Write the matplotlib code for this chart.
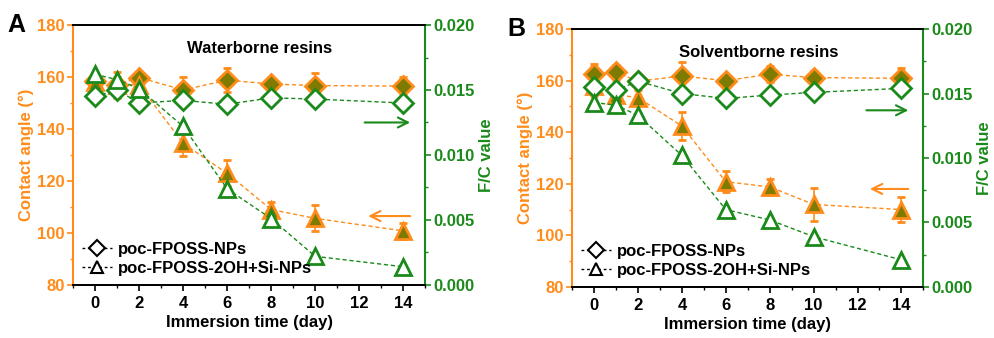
import matplotlib
matplotlib.use('Agg')
import matplotlib.pyplot as plt
from matplotlib.lines import Line2D
from matplotlib.ticker import MultipleLocator

plt.rcParams['font.family'] = ['Liberation Sans', 'DejaVu Sans']
plt.rcParams['font.weight'] = 'bold'

orange = '#ff8c1a'
olive = '#7f7a00'
green = '#1a8a1a'

days = [0, 1, 2, 4, 6, 8, 10, 14]

# panel A - waterborne
ca_np_A = [158.5, 157.0, 159.8, 155.0, 158.8, 157.3, 156.7, 156.5]
ca_np_A_err = [3.0, 5.0, 2.0, 5.0, 4.5, 2.5, 5.0, 3.5]
ca_si_A = [158.0, 157.0, 157.0, 134.5, 122.9, 109.0, 105.6, 100.8]
ca_si_A_err = [2.0, 3.0, 2.0, 5.0, 5.0, 3.0, 5.0, 3.0]
fc_np_A = [0.0145, 0.0150, 0.0140, 0.0142, 0.0139, 0.0144, 0.0143, 0.0140]
fc_si_A = [0.0162, 0.0158, 0.0151, 0.0122, 0.0074, 0.0051, 0.0022, 0.0014]

# panel B - solventborne
ca_np_B = [162.5, 163.2, 159.8, 161.8, 160.0, 162.5, 161.2, 160.9]
ca_np_B_err = [4.0, 3.0, 2.0, 5.5, 2.0, 3.0, 2.5, 4.0]
ca_si_B = [158.0, 154.6, 153.4, 142.4, 120.8, 118.8, 112.0, 110.0]
ca_si_B_err = [4.0, 3.0, 3.0, 5.5, 4.0, 3.0, 6.5, 5.0]
fc_np_B = [0.01547, 0.01526, 0.01596, 0.01500, 0.01462, 0.01488, 0.01509, 0.01540]
fc_si_B = [0.0143, 0.0141, 0.0133, 0.0102, 0.0060, 0.0052, 0.0039, 0.0021]

fig = plt.figure(figsize=(9.95, 3.38), dpi=100)
fs = 12


def panel(rect, label, title, ca_np, ca_np_err, ca_si, ca_si_err, fc_np, fc_si):
    ax = fig.add_axes(rect)
    ax.errorbar(days, ca_np, yerr=ca_np_err, color=orange, ls=(0, (3, 2)), lw=1,
                marker='D', ms=10, mfc=olive, mec=orange, mew=2,
                ecolor=orange, elinewidth=1.2, capsize=3, capthick=1.2)
    ax.errorbar(days, ca_si, yerr=ca_si_err, color=orange, ls=(0, (3, 2)), lw=1,
                marker='^', ms=11, mfc=olive, mec=orange, mew=2,
                ecolor=orange, elinewidth=1.2, capsize=3, capthick=1.2)
    ax.set_xlim(-1, 15)
    ax.set_ylim(80, 180)
    ax.xaxis.set_major_locator(MultipleLocator(2))
    ax.xaxis.set_minor_locator(MultipleLocator(1))
    ax.yaxis.set_major_locator(MultipleLocator(20))
    ax.yaxis.set_minor_locator(MultipleLocator(10))
    ax.tick_params(axis='y', which='both', colors=orange, labelsize=fs, pad=2)
    ax.tick_params(axis='x', labelsize=fs, pad=4)
    ax.tick_params(which='major', length=4, width=1.2)
    ax.tick_params(which='minor', length=2.5, width=1)
    ax.set_xlabel('Immersion time (day)', fontsize=fs, fontweight='bold', labelpad=3)
    ax.set_ylabel('Contact angle (°)', fontsize=fs, fontweight='bold', color=orange, labelpad=2)
    for s in ['top', 'bottom']:
        ax.spines[s].set_linewidth(1.3)
    ax.spines['left'].set_color(orange)
    ax.spines['left'].set_linewidth(1.5)
    ax.spines['right'].set_visible(False)

    ax2 = ax.twinx()
    ax2.plot(days, fc_np, color=green, ls=(0, (3, 2)), lw=1,
             marker='D', ms=10, mfc='white', mec=green, mew=2)
    ax2.plot(days, fc_si, color=green, ls=(0, (3, 2)), lw=1,
             marker='^', ms=11, mfc='white', mec=green, mew=2)
    ax2.set_ylim(0, 0.020)
    ax2.yaxis.set_major_locator(MultipleLocator(0.005))
    ax2.yaxis.set_minor_locator(MultipleLocator(0.0025))
    ax2.yaxis.set_major_formatter(matplotlib.ticker.FormatStrFormatter('%.3f'))
    ax2.tick_params(axis='y', which='both', colors=green, labelsize=fs, pad=2)
    ax2.tick_params(which='major', length=4, width=1.2)
    ax2.tick_params(which='minor', length=2.5, width=1)
    ax2.set_ylabel('F/C value', fontsize=fs, fontweight='bold', color=green, labelpad=3)
    ax2.spines['right'].set_color(green)
    ax2.spines['right'].set_linewidth(1.5)
    ax2.spines['left'].set_visible(False)
    ax2.spines['top'].set_linewidth(1.3)
    ax2.spines['bottom'].set_linewidth(1.3)

    ax2.text(0.53, 0.94, title, transform=ax2.transAxes, ha='center', va='top',
             fontsize=fs, fontweight='bold')
    ax2.text(-0.185, 1.0, label, transform=ax2.transAxes, ha='left', va='center',
             fontsize=18, fontweight='bold')

    handles = [Line2D([], [], color='black', ls=(0, (2, 2)), lw=1, marker='D', ms=8,
                      mfc='white', mec='black', mew=1.5),
               Line2D([], [], color='black', ls=(0, (2, 2)), lw=1, marker='^', ms=9,
                      mfc='white', mec='black', mew=1.5)]
    ax2.legend(handles, ['poc-FPOSS-NPs', 'poc-FPOSS-2OH+Si-NPs'], loc='lower left',
               frameon=False, handlelength=1.8, handletextpad=0.35,
               borderaxespad=0.15, labelspacing=0.25, prop={'weight': 'bold', 'size': fs})
    return ax, ax2


axA, axA2 = panel([0.0734, 0.157, 0.354, 0.769], 'A', 'Waterborne resins',
                  ca_np_A, ca_np_A_err, ca_si_A, ca_si_A_err, fc_np_A, fc_si_A)
axA2.annotate('', xy=(0.965, 0.625), xytext=(0.82, 0.625), xycoords='axes fraction',
              arrowprops=dict(arrowstyle='->', color=green, lw=1.5, mutation_scale=18))
axA2.annotate('', xy=(0.83, 0.265), xytext=(0.965, 0.265), xycoords='axes fraction',
              arrowprops=dict(arrowstyle='->', color=orange, lw=1.5, mutation_scale=18))

axB, axB2 = panel([0.575, 0.151, 0.353, 0.763], 'B', 'Solventborne resins',
                  ca_np_B, ca_np_B_err, ca_si_B, ca_si_B_err, fc_np_B, fc_si_B)
axB2.annotate('', xy=(0.965, 0.685), xytext=(0.83, 0.685), xycoords='axes fraction',
              arrowprops=dict(arrowstyle='->', color=green, lw=1.5, mutation_scale=18))
axB2.annotate('', xy=(0.84, 0.38), xytext=(0.965, 0.38), xycoords='axes fraction',
              arrowprops=dict(arrowstyle='->', color=orange, lw=1.5, mutation_scale=18))

fig.savefig('out.png', dpi=100)
